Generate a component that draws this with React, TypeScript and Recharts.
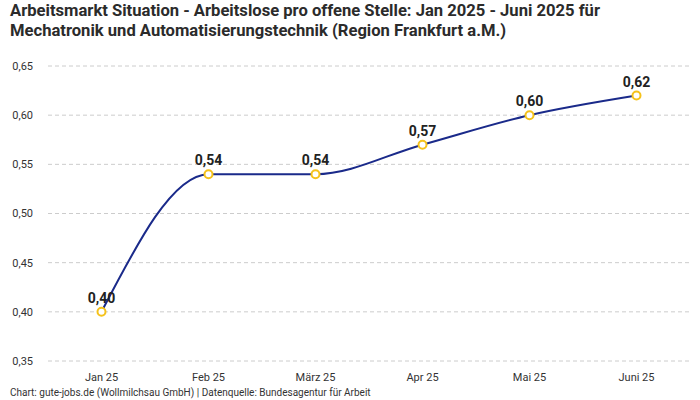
import { CartesianGrid, LabelList, Line, LineChart, XAxis, YAxis } from "recharts";

const months = ["Jan 25", "Feb 25", "März 25", "Apr 25", "Mai 25", "Juni 25"];
const ratio = [0.4, 0.54, 0.54, 0.57, 0.6, 0.62];
const yTicks = [0.35, 0.4, 0.45, 0.5, 0.55, 0.6, 0.65];

const data = months.map((m, i) => ({ month: m, value: ratio[i] }));

const fmt = (v: number) => v.toFixed(2).replace(".", ",");
const FONT = "Roboto, 'Noto Sans', sans-serif";

export default function App() {
	return (
		<div
			style={{
				position: "fixed",
				top: 0,
				left: 0,
				width: 700,
				height: 400,
				background: "#fff",
				fontFamily: FONT,
				color: "#222",
			}}
		>
			<div
				style={{
					position: "absolute",
					left: 10,
					top: 1,
					fontSize: 16.6,
					fontWeight: 700,
					lineHeight: "20px",
					color: "#2b2b2b",
				}}
			>
				Arbeitsmarkt Situation - Arbeitslose pro offene Stelle: Jan 2025 - Juni 2025 für
				<br />
				Mechatronik und Automatisierungstechnik (Region Frankfurt a.M.)
			</div>
			<LineChart
				width={700}
				height={400}
				data={data}
				margin={{ top: 66, right: 10, bottom: 9, left: 0 }}
				style={{ position: "absolute", top: 0, left: 0 }}
			>
				<CartesianGrid vertical={false} stroke="#cccccc" strokeDasharray="4 3" />
				<XAxis
					dataKey="month"
					axisLine={false}
					tickLine={false}
					height={30}
					padding={{ left: 53.5, right: 53.5 }}
					tick={{ fontSize: 11, fill: "#333", fontFamily: FONT }}
					tickMargin={6}
				/>
				<YAxis
					domain={[0.35, 0.65]}
					ticks={yTicks}
					tickFormatter={fmt}
					axisLine={false}
					tickLine={false}
					width={48}
					tickSize={0}
					tickMargin={15}
					tick={{ fontSize: 11, fill: "#333", fontFamily: FONT }}
				/>
				<Line
					type="monotone"
					dataKey="value"
					stroke="#1a2a8a"
					strokeWidth={2}
					dot={{ r: 4, fill: "#fff", stroke: "#f5c21b", strokeWidth: 2 }}
					isAnimationActive={false}
				>
					<LabelList
						dataKey="value"
						position="top"
						offset={9}
						formatter={(v: number) => fmt(v)}
						style={{ fontSize: 14, fontWeight: 700, fill: "#222", fontFamily: FONT }}
					/>
				</Line>
			</LineChart>
			<div
				style={{
					position: "absolute",
					left: 10,
					top: 387,
					fontSize: 10,
					color: "#333",
				}}
			>
				Chart: gute-jobs.de (Wollmilchsau GmbH) | Datenquelle: Bundesagentur für Arbeit
			</div>
		</div>
	);
}
